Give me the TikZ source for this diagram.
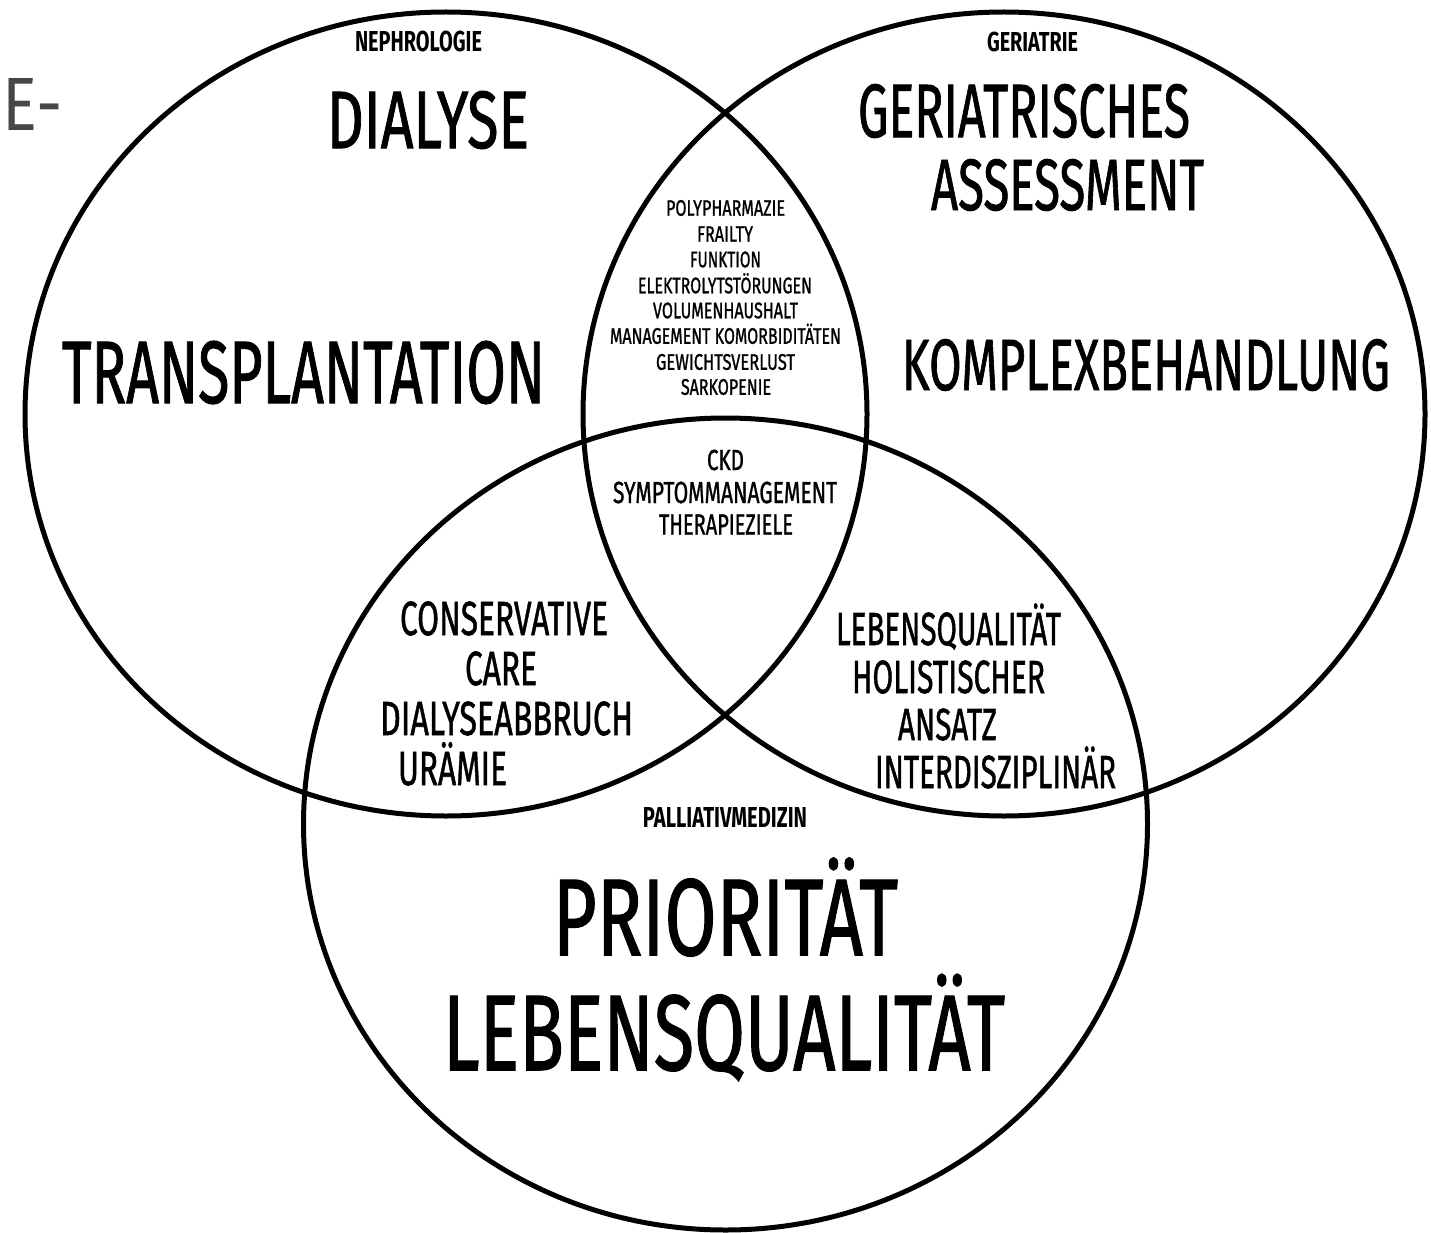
\documentclass[tikz,border=0pt]{standalone}
\usepackage{fontspec}
\setmainfont{Fira Sans}
\newfontfamily\medfont[FakeBold=1.3]{Fira Sans}
\usepackage{graphicx}
\newcommand\fitt[3]{\resizebox{#1pt}{#2pt}{\vphantom{H}\smash{#3}}}
\begin{document}
\begin{tikzpicture}[x=1pt,y=-1pt,
  ring/.style={draw=black,line width=5pt},
  txt/.style={inner sep=0pt,outer sep=0pt,anchor=center,font=\medfont},
  head/.style={inner sep=0pt,outer sep=0pt,anchor=center,font=\bfseries}]
\useasboundingbox[fill=white] (0,0) rectangle (1431,1233);
% circles
\draw[ring] (446,414) ellipse [x radius=421, y radius=402];
\draw[ring] (1004,414) ellipse [x radius=421, y radius=402];
\draw[ring] (725.5,824) ellipse [x radius=422, y radius=406];
% stray text
\node[inner sep=0pt,outer sep=0pt,anchor=center,text=black!72] (cut) at (33,104) {\fitt{60}{52}{E\kern-0.02em-}};
% headings
\node[head] (neph) at (418.5,42) {\fitt{127}{20}{NEPHROLOGIE}};
\node[head] (geri) at (1032.5,42.5) {\fitt{91}{19}{GERIATRIE}};
\node[head] (pall) at (725,817) {\fitt{164}{20}{PALLIATIVMEDIZIN}};
% nephrology
\node[txt] (dial) at (428,120) {\fitt{202}{56}{DIALYSE}};
\node[txt] (tx) at (303.5,372.5) {\fitt{483}{61}{TRANSPLANTATION}};
% geriatrics
\node[txt] (ga1) at (1024,111) {\fitt{332}{52}{GERIATRISCHES}};
\node[txt] (ga2) at (1067.5,185) {\fitt{273}{50}{ASSESSMENT}};
\node[txt] (kb) at (1146,365) {\fitt{488}{50}{KOMPLEXBEHANDLUNG}};
% lens nephro/geriatrie
\node[txt] (l1) at (725.5,208) {\fitt{119}{15.5}{POLYPHARMAZIE}};
\node[txt] (l2) at (725,234) {\fitt{56}{15.5}{FRAILTY}};
\node[txt] (l3) at (725.5,259.5) {\fitt{71}{15.5}{FUNKTION}};
\node[txt] (l4) at (725,285.5) {\fitt{174}{15.5}{ELEKTROLYTSTÖRUNGEN}};
\node[txt] (l5) at (725.5,310.5) {\fitt{145}{15.5}{VOLUMENHAUSHALT}};
\node[txt] (l6) at (725.5,336) {\fitt{231}{15.5}{MANAGEMENT KOMORBIDITÄTEN}};
\node[txt] (l7) at (725.5,362) {\fitt{139}{15.5}{GEWICHTSVERLUST}};
\node[txt] (l8) at (726,387) {\fitt{90}{15.5}{SARKOPENIE}};
% centre
\node[txt] (c1) at (725.5,460) {\fitt{37}{20}{CKD}};
\node[txt] (c2) at (725,492.5) {\fitt{224}{21}{SYMPTOMMANAGEMENT}};
\node[txt] (c3) at (726,524.5) {\fitt{134}{20}{THERAPIEZIELE}};
% nephro/palliativ
\node[txt] (n1) at (504,618.5) {\fitt{208}{33}{CONSERVATIVE}};
\node[txt] (n2) at (501,668.5) {\fitt{72}{33}{CARE}};
\node[txt] (n3) at (506.5,718.5) {\fitt{253}{33}{DIALYSEABBRUCH}};
\node[txt] (n4) at (452.5,768.5) {\fitt{109}{33}{URÄMIE}};
% geriatrie/palliativ
\node[txt] (g1) at (948.5,629) {\fitt{225}{32}{LEBENSQUALITÄT}};
\node[txt] (g2) at (948.5,677) {\fitt{193}{32}{HOLISTISCHER}};
\node[txt] (g3) at (947.5,724.5) {\fitt{99}{31}{ANSATZ}};
\node[txt] (g4) at (995.5,772) {\fitt{241}{32}{INTERDISZIPLINÄR}};
% palliativ
\node[txt] (p1) at (725.5,917.5) {\fitt{345}{75}{PRIORITÄT}};
\node[txt] (p2) at (724,1033) {\fitt{562}{74}{LEBENSQUALITÄT}};
\end{tikzpicture}
\end{document}
